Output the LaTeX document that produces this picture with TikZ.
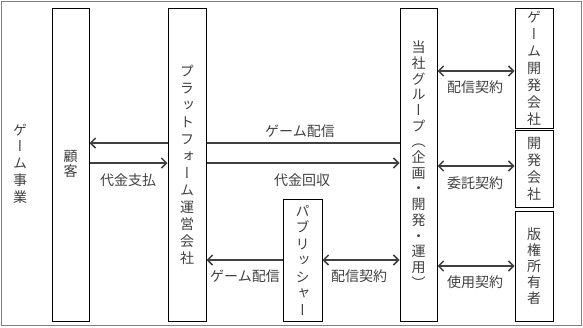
\documentclass[tikz,border=0pt]{standalone}
\usepackage{fontspec}
\setmainfont{Noto Sans CJK JP}
\newfontfamily\tate[RawFeature=+vert]{Noto Sans CJK JP}
\usetikzlibrary{arrows.meta}

\begin{document}
\begin{tikzpicture}[x=1pt,y=-1pt,
  >={Straight Barb[length=5pt,width=10pt]},
  box/.style={draw,line width=1pt,inner sep=0pt,align=center,text=black!75,
    font=\tate\fontsize{14}{#1}\selectfont},
  box/.default=17,
  wire/.style={line width=1.5pt,draw=black!75},
  lbl/.style={font=\fontsize{14}{17}\selectfont,inner sep=0pt,text=black!75}]

\definecolor{rahmen}{RGB}{128,128,128};

\useasboundingbox (0,0) rectangle (583,327);
\draw[rahmen,line width=1pt] (1,1) rectangle (581.5,325);

\node[font=\tate\fontsize{14}{16.75}\selectfont,align=center,text=black!75] (biz) at (20,163.5) {ゲ\\ー\\ム\\事\\業};

\node[box=15,minimum width=37pt,minimum height=313pt] (cust) at (70.5,164.5) {顧\\客};
\node[box,minimum width=38pt,minimum height=313pt] (plat) at (187,164.5)
  {プ\\ラ\\ッ\\ト\\フ\\ォ\\ー\\ム\\運\\営\\会\\社};
\node[box=16.5,minimum width=39pt,minimum height=122pt] (pub) at (302.5,260)
  {パ\\ブ\\リ\\ッ\\シ\\ャ\\ー};
\node[box=15.7,minimum width=37pt,minimum height=313pt] (grp) at (418.5,164.5)
  {当\\社\\グ\\ル\\ー\\プ\\（\\企\\画\\・\\開\\発\\・\\運\\用\\）};
\node[box,minimum width=38pt,minimum height=120pt] (dev1) at (534,68)
  {ゲ\\ー\\ム\\開\\発\\会\\社};
\node[box,minimum width=38pt,minimum height=77pt] (dev2) at (534,168.5)
  {開\\発\\会\\社};
\node[box=16,minimum width=38pt,minimum height=110pt] (lic) at (534,266)
  {版\\権\\所\\有\\者};

\coordinate (r1) at (0,143);
\coordinate (r2) at (0,163);
\coordinate (r3) at (0,260);
\coordinate (s1) at (0,71);
\coordinate (s2) at (0,166);
\coordinate (s3) at (0,266);

\draw[wire] (grp.west |- r1) -- (plat.east |- r1);
\draw[wire,->] (plat.west |- r1) -- (cust.east |- r1);
\draw[wire,->] (cust.east |- r2) -- (plat.west |- r2);
\draw[wire,->] (plat.east |- r2) -- (grp.west |- r2);
\draw[wire,->] (pub.west |- r3) -- (plat.east |- r3);
\draw[wire,<->] (pub.east |- r3) -- (grp.west |- r3);

\draw[wire,<->] (grp.east |- s1) -- (dev1.west |- s1);
\draw[wire,<->] (grp.east |- s2) -- (dev2.west |- s2);
\draw[wire,<->] (grp.east |- s3) -- (lic.west |- s3);

\node[lbl] (t1) at (300,131) {ゲーム配信};
\node[lbl] (t2) at (128,180) {代金支払};
\node[lbl] (t3) at (302,180) {代金回収};
\node[lbl] (t4) at (245,276) {ゲーム配信};
\node[lbl] (t5) at (359,276) {配信契約};
\node[lbl] (t6) at (475,87) {配信契約};
\node[lbl] (t7) at (475,183) {委託契約};
\node[lbl] (t8) at (475,282) {使用契約};
\end{tikzpicture}
\end{document}
